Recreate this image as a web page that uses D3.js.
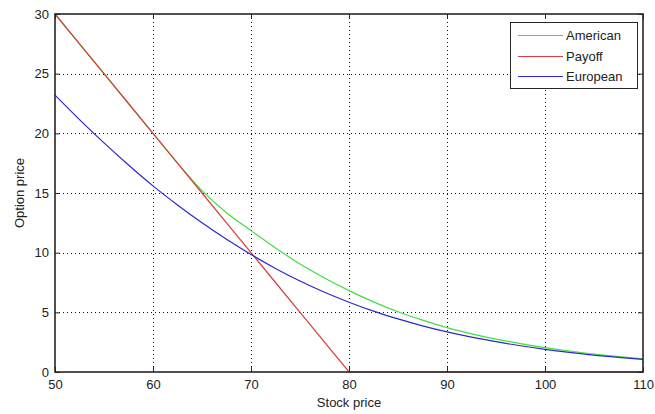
<!DOCTYPE html>
<html>
<head>
<meta charset="utf-8">
<script src="https://cdn.jsdelivr.net/npm/d3@7"></script>
<style>
  html, body { margin: 0; padding: 0; background: #fff; }
  svg { display: block; font-family: "Liberation Sans", Arial, sans-serif; }
</style>
</head>
<body>
<svg id="chart" width="655" height="414"></svg>
<script>
// Put option on a stock, strike 80: value against stock price
const stockPrice = [50, 52.5, 55, 57.5, 60, 62.5, 65, 67.5, 70, 72.5, 75, 77.5, 80,
                    82.5, 85, 87.5, 90, 92.5, 95, 97.5, 100, 102.5, 105, 107.5, 110];
const american = [30, 27.5, 25, 22.5, 20, 17.5, 15.2, 13.35, 11.85, 10.4, 9.05, 7.88, 6.82,
                  5.88, 5.05, 4.35, 3.72, 3.2, 2.76, 2.38, 2.05, 1.76, 1.51, 1.29, 1.1];
const payoff = [30, 27.5, 25, 22.5, 20, 17.5, 15, 12.5, 10, 7.5, 5, 2.5, 0,
                0, 0, 0, 0, 0, 0, 0, 0, 0, 0, 0, 0];
const european = [23.2, 21.15, 19.2, 17.35, 15.6, 14.0, 12.5, 11.12, 9.85, 8.68, 7.62, 6.68, 5.85,
                  5.1, 4.45, 3.87, 3.36, 2.92, 2.54, 2.2, 1.9, 1.64, 1.41, 1.22, 1.05];

const xTicks = [50, 60, 70, 80, 90, 100, 110];
const yTicks = [0, 5, 10, 15, 20, 25, 30];

const seriesNames = ["American", "Payoff", "European"];
const seriesColors = ["#3fe03f", "#dc3a3a", "#2a2ac8"];

const svg = d3.select("#chart");
const plotLeft = 55, plotRight = 643, plotTop = 14, plotBottom = 372;

const x = d3.scaleLinear().domain([50, 110]).range([plotLeft, plotRight]);
const y = d3.scaleLinear().domain([0, 30]).range([plotBottom, plotTop]);

const axisColor = "#262626";
const textColor = "#222";

// dotted grid
const grid = svg.append("g").attr("stroke", "#111").attr("stroke-width", 1)
  .attr("stroke-dasharray", "1,3");
xTicks.slice(1, -1).forEach(t => {
  grid.append("line").attr("x1", Math.round(x(t)) + 0.5).attr("x2", Math.round(x(t)) + 0.5)
    .attr("y1", plotTop).attr("y2", plotBottom);
});
yTicks.slice(1, -1).forEach(t => {
  grid.append("line").attr("y1", Math.round(y(t)) + 0.5).attr("y2", Math.round(y(t)) + 0.5)
    .attr("x1", plotLeft).attr("x2", plotRight);
});

// curves: option values smooth, payoff piecewise linear
const plot = svg.append("g");
const smoothLine = d3.line().x(d => x(d[0])).y(d => y(d[1])).curve(d3.curveMonotoneX);
const straightLine = d3.line().x(d => x(d[0])).y(d => y(d[1]));
[american, payoff, european].forEach((vals, i) => {
  plot.append("path")
    .datum(stockPrice.map((s, j) => [s, vals[j]]))
    .attr("d", i === 1 ? straightLine : smoothLine)
    .attr("fill", "none")
    .attr("stroke", seriesColors[i])
    .attr("stroke-width", 1.2);
});

// axes with inward ticks on all four sides
const tickLen = 5;
const xBottom = d3.axisBottom(x).tickValues(xTicks).tickSize(-tickLen).tickPadding(8);
const xTop = d3.axisTop(x).tickValues(xTicks).tickSize(-tickLen).tickFormat("");
const yLeft = d3.axisLeft(y).tickValues(yTicks).tickSize(-tickLen).tickPadding(6);
const yRight = d3.axisRight(y).tickValues(yTicks).tickSize(-tickLen).tickFormat("");

function styleAxis(g) {
  g.selectAll(".domain").remove();
  g.selectAll(".tick line").attr("stroke", axisColor);
  g.selectAll(".tick text").attr("fill", textColor).style("font-size", "13px");
}
svg.append("g").attr("transform", `translate(0,${plotBottom})`).call(xBottom).call(styleAxis);
svg.append("g").attr("transform", `translate(0,${plotTop})`).call(xTop).call(styleAxis);
svg.append("g").attr("transform", `translate(${plotLeft},0)`).call(yLeft).call(styleAxis);
svg.append("g").attr("transform", `translate(${plotRight},0)`).call(yRight).call(styleAxis);

// axes box, drawn over the curves
svg.append("rect")
  .attr("x", plotLeft).attr("y", plotTop)
  .attr("width", plotRight - plotLeft).attr("height", plotBottom - plotTop)
  .attr("fill", "none").attr("stroke", axisColor).attr("stroke-width", 1.6);

// axis titles
svg.append("text").attr("x", (plotLeft + plotRight) / 2).attr("y", 407)
  .attr("text-anchor", "middle").attr("fill", textColor).style("font-size", "13px")
  .text("Stock price");
svg.append("text")
  .attr("transform", `translate(24,${(plotTop + plotBottom) / 2}) rotate(-90)`)
  .attr("text-anchor", "middle").attr("fill", textColor).style("font-size", "13px")
  .text("Option price");

// legend
const lg = svg.append("g");
const lgX = 510, lgY = 22, lgW = 127, rowH = 20.5;
lg.append("rect").attr("x", lgX + 0.5).attr("y", lgY + 0.5)
  .attr("width", lgW).attr("height", 66)
  .attr("fill", "#fff").attr("stroke", axisColor).attr("stroke-width", 1);
seriesNames.forEach((name, i) => {
  const cy = Math.round(lgY + 13 + i * rowH);
  lg.append("line").attr("x1", lgX + 8).attr("x2", lgX + 53)
    .attr("y1", cy + 0.5).attr("y2", cy + 0.5)
    .attr("stroke", seriesColors[i]).attr("stroke-width", 1.2);
  lg.append("text").attr("x", lgX + 56).attr("y", cy).attr("dy", "0.35em")
    .attr("fill", textColor).style("font-size", "13px").text(name);
});
</script>
</body>
</html>
